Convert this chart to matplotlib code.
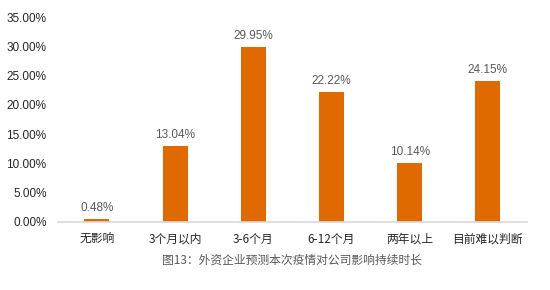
import matplotlib
matplotlib.use("Agg")
import matplotlib.pyplot as plt
from matplotlib.ticker import FuncFormatter

plt.rcParams['font.family'] = ['Noto Sans CJK SC', 'DejaVu Sans']

categories = ["无影响", "3个月以内", "3-6个月", "6-12个月", "两年以上", "目前难以判断"]
values = [0.48, 13.04, 29.95, 22.22, 10.14, 24.15]
yticks = [0, 5, 10, 15, 20, 25, 30, 35]
caption = "图13：外资企业预测本次疫情对公司影响持续时长"

fig = plt.figure(figsize=(5.5, 2.9), dpi=100)
ax = fig.add_axes([0.105, 0.235, 0.853, 0.706])
x = list(range(len(categories)))
ax.bar(x, values, width=0.32, color="#E06A00")
for xi, v in zip(x, values):
    ax.text(xi, v + 0.8, f"{v:.2f}%", ha="center", va="bottom", fontsize=8.5, color="#595959",
            family=['Liberation Sans', 'DejaVu Sans'])
ax.set_xlim(-0.5, len(categories) - 0.5)
ax.set_ylim(0, 35)
ax.set_yticks(yticks)
ax.yaxis.set_major_formatter(FuncFormatter(lambda v, p: f"{v:.2f}%"))
for lab in ax.get_yticklabels():
    lab.set_family(['Liberation Sans', 'DejaVu Sans'])
ax.set_xticks(x)
ax.set_xticklabels(categories, fontsize=8.5, color="#262626")
ax.tick_params(axis='y', labelsize=8.5, labelcolor="#262626", length=0, pad=8)
ax.tick_params(axis='x', length=0, pad=8)
for s in ["top", "right", "left"]:
    ax.spines[s].set_visible(False)
ax.spines["bottom"].set_color("#D9D9D9")
ax.spines["bottom"].set_linewidth(1.2)
fig.text(0.53, 0.103, caption, ha="center", va="center", fontsize=8.5, color="#595959")
fig.savefig("out.png", dpi=100)
